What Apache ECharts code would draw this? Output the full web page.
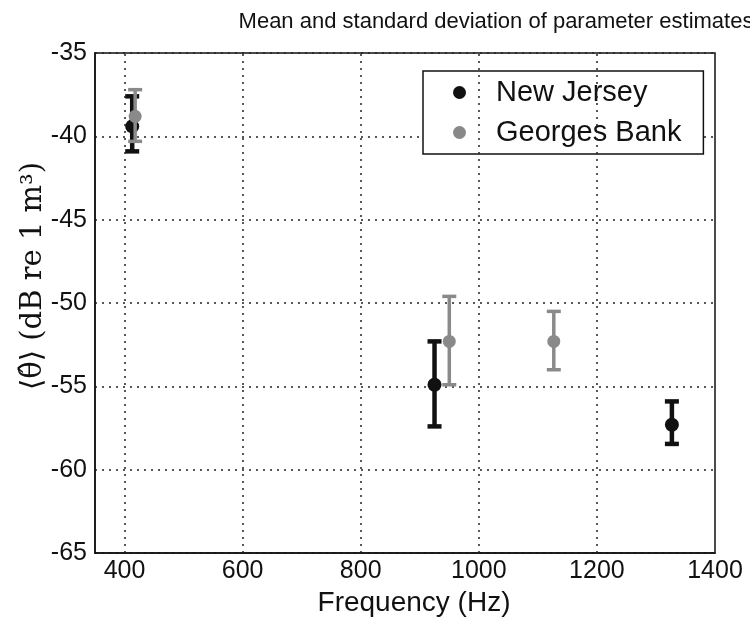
<!DOCTYPE html>
<html><head><meta charset="utf-8">
<script src="https://cdn.jsdelivr.net/npm/echarts@6/dist/echarts.min.js"></script>
<style>html,body{margin:0;padding:0;background:#fff}#c{width:750px;height:622px}</style>
</head><body><div id="c"></div>
<script>
// New Jersey: frequency, mean, lower, upper
const njFreq = [413, 925, 1327];
const njMean = [-39.4, -54.9, -57.3];
const njLow  = [-40.9, -57.4, -58.45];
const njHigh = [-37.6, -52.3, -55.9];
// Georges Bank
const gbFreq = [418, 950, 1127];
const gbMean = [-38.8, -52.3, -52.3];
const gbLow  = [-40.3, -54.9, -54.0];
const gbHigh = [-37.2, -49.6, -50.5];
const xTicks = [400, 600, 800, 1000, 1200, 1400];
const yTicks = [-65, -60, -55, -50, -45, -40, -35];

function build(f, m, l, h) { return f.map((x, i) => [x, m[i], l[i], h[i]]); }

function errRender(color, lw, r) {
  return function (params, api) {
    const x = api.value(0);
    const c = api.coord([x, api.value(1)]);
    const lo = api.coord([x, api.value(2)]);
    const hi = api.coord([x, api.value(3)]);
    const cw = 7;
    const st = { stroke: color, lineWidth: lw };
    return {
      type: 'group',
      children: [
        { type: 'line', shape: { x1: c[0], y1: lo[1], x2: c[0], y2: hi[1] }, style: st },
        { type: 'line', shape: { x1: c[0] - cw, y1: lo[1], x2: c[0] + cw, y2: lo[1] }, style: st },
        { type: 'line', shape: { x1: c[0] - cw, y1: hi[1], x2: c[0] + cw, y2: hi[1] }, style: st },
        { type: 'circle', shape: { cx: c[0], cy: c[1], r: r }, style: { fill: color } }
      ]
    };
  };
}

const chart = echarts.init(document.getElementById('c'));
const font = 'Liberation Sans, Arial, sans-serif';
chart.setOption({
  animation: false,
  title: {
    text: 'Mean and standard deviation of parameter estimates',
    left: 491, top: 6, textAlign: 'center',
    textStyle: { fontFamily: font, fontSize: 22, fontWeight: 'normal', color: '#111' }
  },
  legend: {
    orient: 'vertical', left: 423, top: 71,
    padding: [7, 22, 7, 30],
    backgroundColor: '#fff',
    borderColor: '#111', borderWidth: 1.5,
    itemWidth: 13, itemHeight: 13, itemGap: 11,
    textStyle: { fontFamily: font, fontSize: 29, lineHeight: 28, color: '#111', padding: [0, 0, 0, 25] },
    data: [
      { name: 'New Jersey', icon: 'circle', itemStyle: { color: '#111' } },
      { name: 'Georges Bank', icon: 'circle', itemStyle: { color: '#888' } }
    ]
  },
  grid: { left: 95, right: 35, top: 53, bottom: 65, show: true, borderColor: '#111', borderWidth: 1.5 },
  xAxis: {
    type: 'value', min: 350, max: 1400,
    axisLine: { show: true, lineStyle: { color: '#111', width: 1.5 } },
    axisTick: { show: false },
    axisLabel: {
      fontFamily: font, fontSize: 25, color: '#111', margin: 6,
      customValues: xTicks, formatter: v => String(v)
    },
    splitLine: { show: false },
    name: 'Frequency (Hz)', nameLocation: 'middle', nameGap: 29,
    nameTextStyle: { fontFamily: font, fontSize: 28, color: '#111', padding: [0, 0, 0, 18] }
  },
  yAxis: {
    type: 'value', min: -65, max: -35, interval: 5,
    axisLine: { show: true, lineStyle: { color: '#111', width: 1.5 } },
    axisTick: { show: false },
    axisLabel: { fontFamily: font, fontSize: 25, color: '#111', margin: 8 },
    splitLine: { show: true, lineStyle: { color: '#222', type: [2, 5], width: 1.5 } }
  },
  graphic: [{
    type: 'text', x: 33, y: 276, rotation: Math.PI / 2,
    style: {
      text: '⟨θ̂⟩ (dB re 1 m³)', fill: '#111',
      font: '29px "DejaVu Serif", "Liberation Serif", serif',
      textAlign: 'center', textVerticalAlign: 'middle'
    }
  }],
  series: [
    {
      type: 'custom', name: 'New Jersey', renderItem: errRender('#111', 4.5, 7),
      itemStyle: { color: '#111' }, encode: { x: 0, y: [1, 2, 3] },
      data: build(njFreq, njMean, njLow, njHigh), z: 3
    },
    {
      type: 'custom', name: 'Georges Bank', renderItem: errRender('#8a8a8a', 3.5, 6.5),
      itemStyle: { color: '#888' }, encode: { x: 0, y: [1, 2, 3] },
      data: build(gbFreq, gbMean, gbLow, gbHigh), z: 4
    },
    {
      type: 'line', data: [], silent: true,
      markLine: {
        silent: true, symbol: 'none', label: { show: false },
        lineStyle: { color: '#222', type: [2, 5], width: 1.5 },
        data: xTicks.filter(v => v < 1400).map(v => ({ xAxis: v }))
      }
    }
  ]
});
</script></body></html>
